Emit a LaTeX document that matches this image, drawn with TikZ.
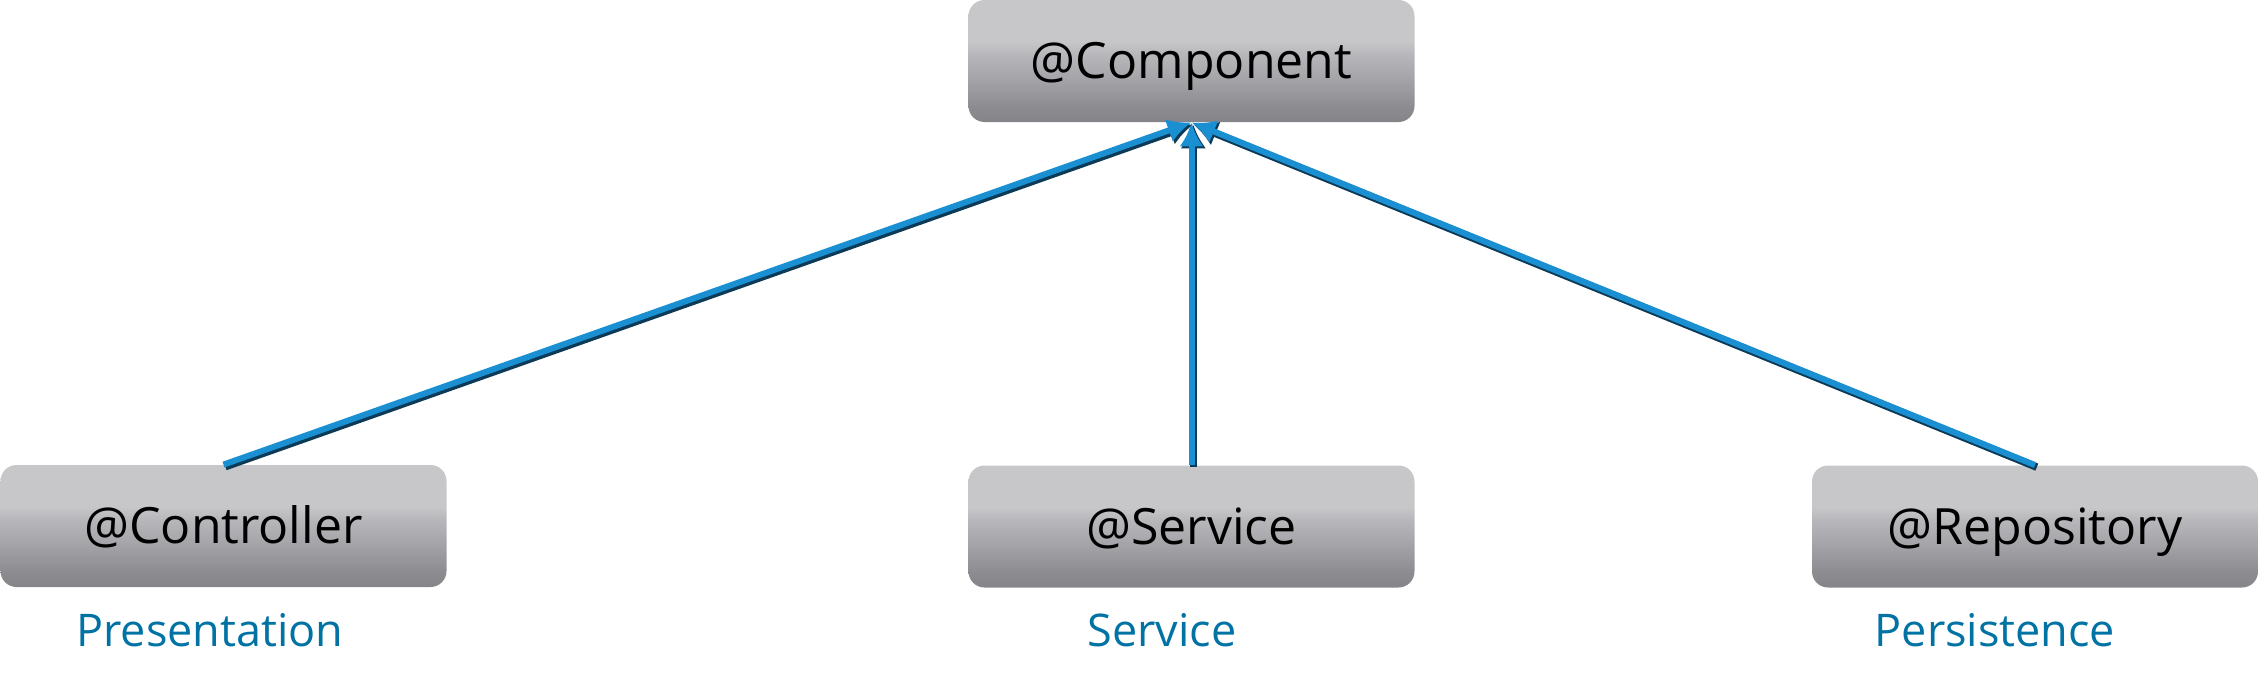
\documentclass[tikz,border=0pt]{standalone}
\usepackage{fontspec}
\setmainfont{Open Sans}
\usetikzlibrary{arrows.meta}
\definecolor{gtop}{RGB}{199,199,201}
\definecolor{g3}{RGB}{184,183,187}
\definecolor{g2}{RGB}{163,162,167}
\definecolor{g1}{RGB}{140,139,143}
\definecolor{gbot}{RGB}{133,132,136}
\definecolor{lblue}{RGB}{0,114,163}
\definecolor{aline}{RGB}{26,144,210}
\definecolor{ashadow}{RGB}{12,58,87}
\pgfdeclareverticalshading{boxshade}{100bp}{color(0bp)=(gbot); color(25bp)=(gbot); color(31bp)=(g1); color(42bp)=(g2); color(53bp)=(g3); color(58bp)=(gtop); color(100bp)=(gtop)}
\tikzset{
  box/.style={shading=boxshade, rounded corners=8bp, inner sep=0pt,
    minimum width=223bp, minimum height=61bp, text height=17.8bp, text depth=0pt,
    font=\fontsize{25bp}{30bp}\selectfont, text=black},
  layer/.style={anchor=base, text=lblue, font=\fontsize{22.5bp}{27bp}\selectfont},
  shadowline/.style={draw=ashadow, line width=3.8bp, transform canvas={shift={(0.9bp,-1bp)}},
    -{Latex[length=12bp,width=13bp]}},
  conn/.style={draw=aline, line width=3bp, -{Latex[length=12bp,width=12bp]}}
}
\begin{document}
\begin{tikzpicture}[x=0.5bp,y=-0.5bp]
\useasboundingbox (0,0) rectangle (2258,686);
\node[box] (comp) at (1191.5,61) {@Component};
\node[box] (ctrl) at (223.5,526) {@Controller};
\node[box] (serv) at (1191.5,526.5) {@Service};
\node[box] (repo) at (2035,526.5) {@Repository};
\node[layer] (lp) at (210,646) {Presentation};
\node[layer] (ls) at (1162,646) {Service};
\node[layer] (lr) at (1995,646) {Persistence};
\draw[shadowline] (ctrl.north) -- (comp.south);
\draw[shadowline] (serv.north) -- (comp.south);
\draw[shadowline] (repo.north) -- (comp.south);
\draw[conn] (ctrl.north) -- (comp.south);
\draw[conn] (serv.north) -- (comp.south);
\draw[conn] (repo.north) -- (comp.south);
\end{tikzpicture}
\end{document}
